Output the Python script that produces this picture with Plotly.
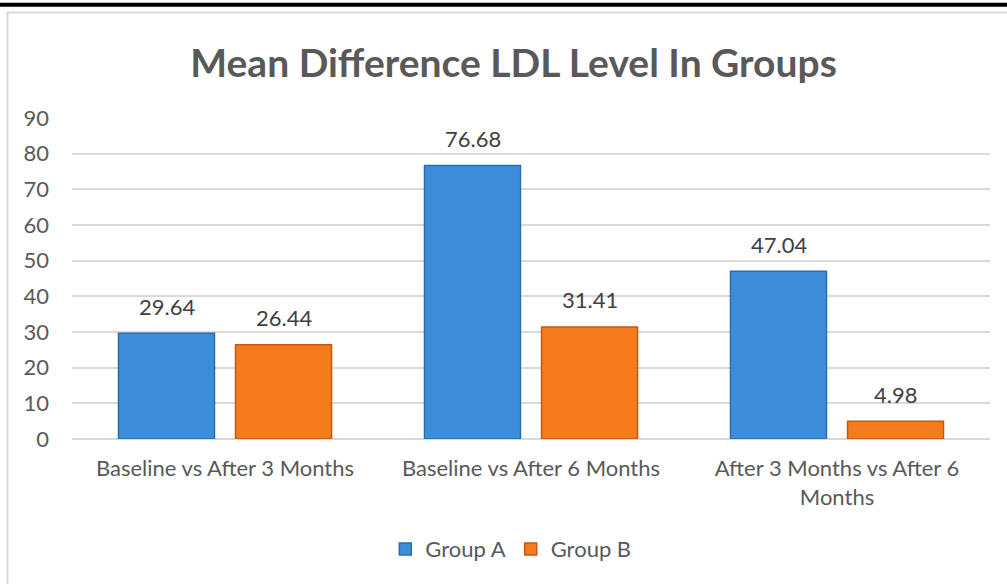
import plotly.graph_objects as go

categories = ["Baseline vs After 3 Months", "Baseline vs After 6 Months",
              "After 3 Months vs After 6<br>Months"]
group_a = [29.64, 76.68, 47.04]
group_b = [26.44, 31.41, 4.98]
y_ticks = [0, 10, 20, 30, 40, 50, 60, 70, 80, 90]

FONT = "Lato"
GREY = "#595959"

fig = go.Figure()

fig.add_trace(go.Bar(
    x=categories, y=group_a, name="Group A",
    marker=dict(color="#3d8ddb", line=dict(color="#2a6cb0", width=1.5)),
))
fig.add_trace(go.Bar(
    x=categories, y=group_b, name="Group B",
    marker=dict(color="#f57b1c", line=dict(color="#c35a10", width=1.5)),
))

# value labels above each bar
for series, shift in [(group_a, -58.5), (group_b, 58.5)]:
    for cat, val in zip(categories, series):
        fig.add_annotation(
            x=cat, y=val, text=f"{val:.2f}", showarrow=False,
            xshift=shift, yshift=27, yanchor="middle",
            font=dict(family=FONT, size=22, color="#404040"),
        )

# chart frame and the black rule at the very top
fig.add_shape(type="rect", xref="paper", yref="paper",
              x0=-0.0703, x1=1.2, y0=-1.0, y1=1.3287,
              line=dict(color="#d9d9d9", width=2), layer="below")
fig.add_shape(type="line", xref="paper", yref="paper",
              x0=-0.2, x1=1.2, y0=1.3525, y1=1.3525,
              line=dict(color="black", width=4))

fig.update_layout(
    title=dict(text="<b>Mean Difference LDL Level In Groups</b>",
               x=0.51, xanchor="center", y=1 - 63 / 584, yanchor="middle",
               font=dict(family=FONT, size=39, color=GREY)),
    width=1007, height=584,
    margin=dict(l=72, r=17, t=118, b=145),
    plot_bgcolor="white", paper_bgcolor="white",
    barmode="group", bargap=0.235, bargroupgap=0.18,
    font=dict(family=FONT, size=22, color=GREY),
    xaxis=dict(showgrid=False, tickfont=dict(size=22, color=GREY),
               ticks="", showline=False, ticklabelstandoff=14),
    yaxis=dict(range=[0, 90], tickvals=y_ticks, showgrid=True,
               gridcolor="#d9d9d9", gridwidth=1.5, zeroline=True,
               zerolinecolor="#d9d9d9", zerolinewidth=1.5,
               tickfont=dict(size=22, color=GREY), ticklabelstandoff=22),
    legend=dict(orientation="h", x=0.478, xanchor="center",
                y=-0.343, yanchor="middle", itemwidth=30,
                font=dict(size=22, color=GREY)),
    showlegend=True,
)

fig.write_html("out.html", config={"displayModeBar": False},
               post_script="document.body.style.margin='0';")
